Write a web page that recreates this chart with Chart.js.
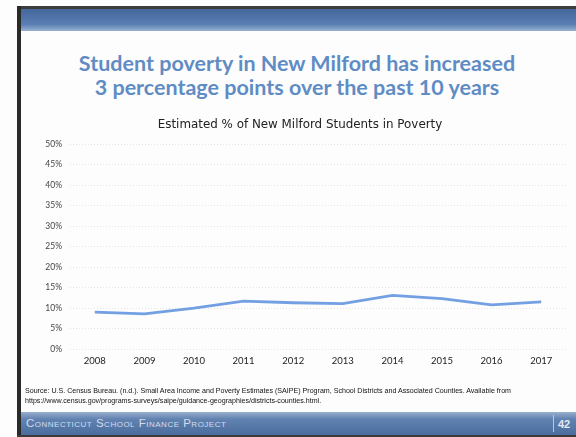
<!DOCTYPE html>
<html>
<head>
<meta charset="utf-8">
<script src="https://cdn.jsdelivr.net/npm/chart.js@4/dist/chart.umd.min.js"></script>
<style>
  html, body { margin: 0; padding: 0; background: #ffffff; }
  #slide { position: relative; width: 576px; height: 437px; overflow: hidden; background: #fdfdfd; font-family: Lato, "Open Sans", sans-serif; }
  #topdark { position: absolute; left: 17px; top: 6px; width: 559px; height: 3px; background: #3c3c3c; }
  #topbar { position: absolute; left: 21px; top: 9px; width: 555px; height: 22px; background: linear-gradient(#44679c, #5a7fb3 70%, #9ab2d2); }
  #leftline { position: absolute; left: 17px; top: 6px; width: 4px; height: 431px; background: #2a2a2a; }
  #title { position: absolute; left: 18px; width: 558px; top: 51px; text-align: center; color: #5f8cc4; font-size: 21.5px; font-weight: 700; line-height: 24px; }
  #chartwrap { position: absolute; left: 0; top: 110px; width: 576px; height: 265px; }
  #source { position: absolute; left: 25px; top: 387px; width: 551px; font-size: 7.1px; line-height: 9.5px; color: #111; font-family: "Liberation Sans", Arial, sans-serif; white-space: nowrap; will-change: transform; }
  #footbar { position: absolute; left: 21px; top: 412px; width: 555px; height: 23px; background: linear-gradient(#9ab0cf, #6283b1 30%, #4a6d9e); }
  #footdark { position: absolute; left: 17px; top: 435px; width: 559px; height: 2px; background: #3a3a3a; }
  #foottext { position: absolute; left: 26px; top: 417px; font-size: 11.5px; color: #d3dcea; font-variant: small-caps; letter-spacing: 0.5px; font-family: "Liberation Sans", sans-serif; }
  #footsep { position: absolute; left: 553px; top: 415px; width: 1px; height: 17px; background: #b9c7dc; }
  #pagenum { position: absolute; left: 558px; top: 418px; font-size: 11px; font-weight: bold; color: #e2e8f2; font-family: "Liberation Sans", sans-serif; }
</style>
</head>
<body>
<div id="slide">
  <div id="topdark"></div>
  <div id="topbar"></div>
  <div id="leftline"></div>
  <div id="title">Student poverty in New Milford has increased<br>3 percentage points over the past 10 years</div>
  <div id="chartwrap"><canvas id="c" width="576" height="265"></canvas></div>
  <div id="source">Source: U.S. Census Bureau. (n.d.). Small Area Income and Poverty Estimates (SAIPE) Program, School Districts and Associated Counties. Available from<br>https://www.census.gov/programs-surveys/saipe/guidance-geographies/districts-counties.html.</div>
  <div id="footbar"></div>
  <div id="footdark"></div>
  <div id="foottext">Connecticut School Finance Project</div>
  <div id="footsep"></div>
  <div id="pagenum">42</div>
</div>
<script>
const years = ["2008","2009","2010","2011","2012","2013","2014","2015","2016","2017"];
const povertyPct = [9.0, 8.6, 10.0, 11.7, 11.3, 11.1, 13.1, 12.3, 10.8, 11.5];
const yTicks = [0, 5, 10, 15, 20, 25, 30, 35, 40, 45, 50];
const chartTitle = "Estimated % of New Milford Students in Poverty";

new Chart(document.getElementById('c'), {
  type: 'line',
  data: {
    labels: years,
    datasets: [{
      data: povertyPct,
      borderColor: '#739fe3',
      borderWidth: 2.8,
      pointRadius: 0,
      tension: 0,
      fill: false
    }]
  },
  options: {
    responsive: false,
    animation: false,
    layout: { padding: { left: 34, right: 10, top: 0, bottom: 0 } },
    plugins: {
      legend: { display: false },
      tooltip: { enabled: false },
      title: {
        display: true,
        text: chartTitle,
        color: '#222',
        font: { family: '"DejaVu Sans", sans-serif', size: 11.9, weight: 'normal' },
        padding: { top: 8, bottom: 12 }
      }
    },
    scales: {
      x: {
        offset: true,
        grid: { display: false, drawTicks: false },
        border: { display: false },
        ticks: { color: '#222', font: { family: 'Lato, sans-serif', size: 9.5 }, padding: 6, maxRotation: 0 },
        afterFit: (s) => { s.height = 26; }
      },
      y: {
        min: 0, max: 50,
        afterBuildTicks: (s) => { s.ticks = yTicks.map(v => ({ value: v })); },
        grid: { color: 'rgba(120,120,120,0.18)', lineWidth: 1, drawTicks: false },
        border: { display: false, dash: [1, 2] },
        ticks: { color: '#444', font: { family: 'Lato, sans-serif', size: 8.5 }, padding: 8, callback: (v) => v + '%' },
        afterFit: (s) => { s.width = 36; }
      }
    }
  }
});
</script>
</body>
</html>
